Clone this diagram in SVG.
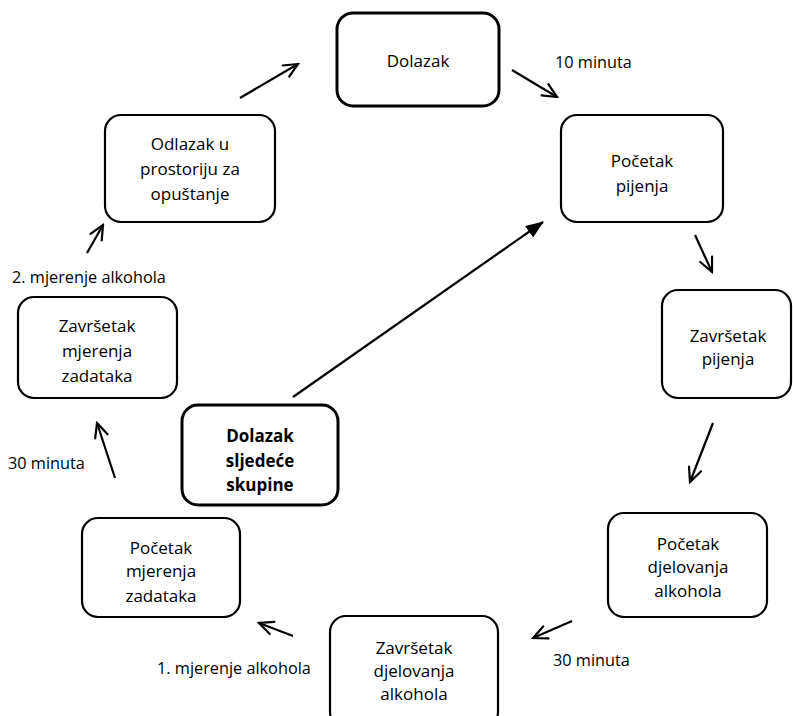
<svg xmlns="http://www.w3.org/2000/svg" width="793" height="716" viewBox="0 0 793 716">
<style>
.box{fill:#fff;stroke:#000;stroke-width:2.2}
.thick{stroke-width:3}
.t{font-family:"Open Sans","Liberation Sans",sans-serif;font-size:17px;fill:#000;text-anchor:middle;dominant-baseline:central}
.b{font-weight:bold}
.l{font-family:"Open Sans","Liberation Sans",sans-serif;font-size:16.3px;fill:#000;dominant-baseline:central}
.c{fill:none;stroke:#000;stroke-width:2.2}
</style>
<defs>
<marker id="open" markerUnits="userSpaceOnUse" viewBox="0 0 18 16" refX="16" refY="8" markerWidth="18" markerHeight="16" orient="auto">
<path d="M2,1.5 L16,8 L2,14.5" fill="none" stroke="#000" stroke-width="2.2" stroke-linecap="round" stroke-linejoin="miter"/>
</marker>
<marker id="filled" markerUnits="userSpaceOnUse" viewBox="0 0 18 14" refX="17" refY="7" markerWidth="18" markerHeight="14" orient="auto">
<path d="M0,0 L18,7 L0,14 z" fill="#000"/>
</marker>
</defs>
<rect width="793" height="716" fill="#fff"/>
<g id="connectors">
<line class="c" x1="240" y1="98" x2="298" y2="64" marker-end="url(#open)"/>
<line class="c" x1="512" y1="70" x2="557" y2="97" marker-end="url(#open)"/>
<line class="c" x1="695" y1="235" x2="712" y2="272" marker-end="url(#open)"/>
<line class="c" x1="713" y1="423" x2="690" y2="482" marker-end="url(#open)"/>
<line class="c" x1="572" y1="621" x2="533" y2="638" marker-end="url(#open)"/>
<line class="c" x1="293" y1="636" x2="259" y2="623" marker-end="url(#open)"/>
<line class="c" x1="115" y1="478" x2="97" y2="423" marker-end="url(#open)"/>
<line class="c" x1="87" y1="253" x2="103" y2="225" marker-end="url(#open)"/>
<line class="c" x1="293" y1="397" x2="543" y2="222" marker-end="url(#filled)"/>
<text class="l" x="555" y="62">10 minuta</text>
<text class="l" x="12" y="277">2. mjerenje alkohola</text>
<text class="l" x="8" y="463">30 minuta</text>
<text class="l" x="157" y="668">1. mjerenje alkohola</text>
<text class="l" x="553" y="660">30 minuta</text>
</g>
<g id="dolazak">
<rect class="box thick" x="337" y="13" width="162" height="93" rx="16"/>
<text class="t" x="418" y="60">Dolazak</text>
</g>
<g id="pocetak-pijenja">
<rect class="box" x="561" y="115" width="162" height="107" rx="16"/>
<text class="t" x="642" y="160">Početak</text>
<text class="t" x="642" y="185">pijenja</text>
</g>
<g id="zavrsetak-pijenja">
<rect class="box" x="662" y="290" width="129" height="108" rx="16"/>
<text class="t" x="728" y="335">Završetak</text>
<text class="t" x="728" y="358">pijenja</text>
</g>
<g id="pocetak-djelovanja">
<rect class="box" x="608" y="513" width="159" height="104" rx="16"/>
<text class="t" x="688" y="543">Početak</text>
<text class="t" x="688" y="566">djelovanja</text>
<text class="t" x="688" y="590">alkohola</text>
</g>
<g id="zavrsetak-djelovanja">
<rect class="box" x="330" y="616" width="168" height="112" rx="16"/>
<text class="t" x="414" y="647">Završetak</text>
<text class="t" x="414" y="670">djelovanja</text>
<text class="t" x="414" y="693">alkohola</text>
</g>
<g id="pocetak-mjerenja">
<rect class="box" x="82" y="518" width="158" height="99" rx="16"/>
<text class="t" x="161" y="547">Početak</text>
<text class="t" x="161" y="570">mjerenja</text>
<text class="t" x="161" y="595">zadataka</text>
</g>
<g id="zavrsetak-mjerenja">
<rect class="box" x="18" y="297" width="159" height="101" rx="16"/>
<text class="t" x="97" y="325">Završetak</text>
<text class="t" x="97" y="350">mjerenja</text>
<text class="t" x="97" y="375">zadataka</text>
</g>
<g id="odlazak">
<rect class="box" x="105" y="115" width="170" height="107" rx="16"/>
<text class="t" x="190" y="143">Odlazak u</text>
<text class="t" x="190" y="168">prostoriju za</text>
<text class="t" x="190" y="193">opuštanje</text>
</g>
<g id="dolazak-sljedece">
<rect class="box thick" x="182" y="405" width="156" height="100" rx="16"/>
<text class="t b" x="260" y="435">Dolazak</text>
<text class="t b" x="260" y="460">sljedeće</text>
<text class="t b" x="260" y="484">skupine</text>
</g>
</svg>
